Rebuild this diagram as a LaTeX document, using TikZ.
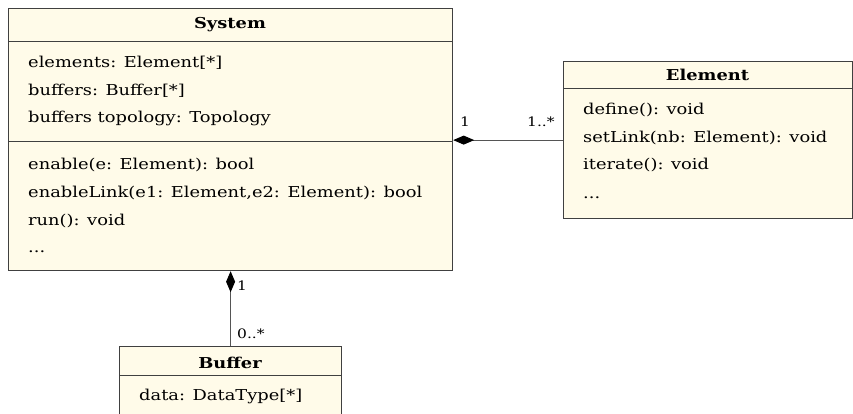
\documentclass[tikz,border=0pt]{standalone}
\usepackage{fontspec}
\setmainfont{DejaVu Serif}[FakeStretch=1.19]
\usetikzlibrary{arrows.meta}

\definecolor{classfill}{RGB}{255,251,233}
\definecolor{classline}{RGB}{64,64,64}
\definecolor{linkline}{RGB}{85,85,85}

\begin{document}
\begin{tikzpicture}[x=1pt, y=-1pt,
  classbox/.style={draw=classline, fill=classfill, line width=1.2pt, inner sep=0pt, anchor=north west},
  divider/.style={draw=classline, line width=1pt},
  member/.style={anchor=base west, inner sep=0pt, font=\fontsize{15}{17}\selectfont},
  title/.style={anchor=base, inner sep=0pt, font=\fontsize{15}{17}\selectfont\bfseries},
  mult/.style={anchor=base west, inner sep=0pt, font=\fontsize{13}{15}\selectfont},
  assoc/.style={draw=linkline, line width=1pt},
  composite/.style={{Diamond[length=21pt,width=9pt,color=black]}-}
]
\useasboundingbox (0,0) rectangle (853,414);
\clip (0,0) rectangle (853,414);

% System class
\node[classbox, minimum width=444pt, minimum height=262pt] (sys) at (8,8) {};
\draw[divider] (8,42) -- (452,42);
\draw[divider] (8,142) -- (452,142);
\node[title] (sysT) at (230,29) {System};
\node[member] (s1) at (28,68) {elements: Element[*]};
\node[member] (s2) at (28,95.5) {buffers: Buffer[*]};
\node[member] (s3) at (28,123) {buffers topology: Topology};
\node[member] (s4) at (28,170) {enable(e: Element): bool};
\node[member] (s5) at (28,197.5) {enableLink(e1: Element,e2: Element): bool};
\node[member] (s6) at (28,225) {run(): void};
\node[member] (s7) at (28,252.5) {...};

% Element class
\node[classbox, minimum width=289pt, minimum height=157pt] (el) at (563,61) {};
\draw[divider] (563,89) -- (852,89);
\node[title] (elT) at (707.5,81) {Element};
\node[member] (e1) at (583,115) {define(): void};
\node[member] (e2) at (583,142.5) {setLink(nb: Element): void};
\node[member] (e3) at (583,170) {iterate(): void};
\node[member] (e4) at (583,198) {...};

% Buffer class
\node[classbox, minimum width=222pt, minimum height=90pt] (buf) at (119,346) {};
\draw[divider] (119,375) -- (341,375);
\node[title] (bufT) at (230,368) {Buffer};
\node[member] (b1) at (139,400) {data: DataType[*]};

% Compositions
\draw[assoc, composite] (sys.east |- el.west) -- (el.west);
\draw[assoc, composite] (sys.south) -- (buf.north);

% Multiplicities
\node[mult] (m1) at (460,127) {1};
\node[mult] (m2) at (527,127) {1..*};
\node[mult] (m3) at (237,290) {1};
\node[mult] (m4) at (237,338) {0..*};
\end{tikzpicture}
\end{document}
